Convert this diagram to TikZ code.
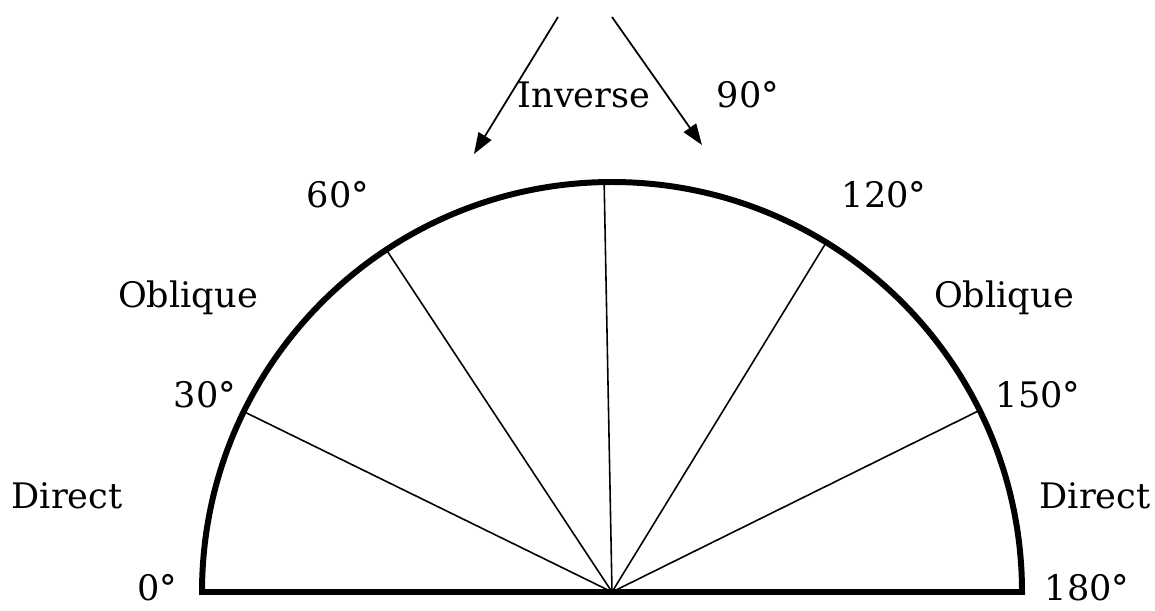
\documentclass[tikz,border=0pt]{standalone}
\usepackage{fontspec}
\setmainfont{DejaVu Serif}
\usetikzlibrary{arrows.meta,calc}

\begin{document}
\begin{tikzpicture}[x=0.02cm,y=0.02cm,
    rim/.style={line width=3.4pt,line cap=round},
    spoke/.style={line width=0.9pt},
    dirarrow/.style={line width=1pt,-{Triangle[length=12pt,width=8.5pt]}},
    lbl/.style={font=\fontsize{20}{24}\selectfont,inner sep=0pt,anchor=base}]
  \useasboundingbox (0,0) rectangle (1155,610);
  \coordinate (C) at (612,18);
  % spokes
  \foreach \ang/\nm in {153.9/s30,123.4/s60,91.1/s90,58.5/s120,26.3/s150}{
    \coordinate (\nm) at ($(C)+(\ang:410)$);
    \draw[spoke] (C) -- (\nm);
  }
  \draw[rim] (202,18) arc[start angle=180,end angle=0,radius=410] -- cycle;
  \fill (C) circle (3);
  % arrows for inverse region
  \coordinate (la) at (558,593);
  \coordinate (lb) at (474,456);
  \coordinate (ra) at (612,593);
  \coordinate (rb) at (702,465);
  \draw[dirarrow] (la) -- (lb);
  \draw[dirarrow] (ra) -- (rb);
  % labels
  \node[lbl] (inv) at (584,503) {Inverse};
  \node[lbl] (d90) at (748,503) {90°};
  \node[lbl] (d60) at (338,403) {60°};
  \node[lbl] (d120) at (884,403) {120°};
  \node[lbl] (obl) at (188,303) {Oblique};
  \node[lbl] (obr) at (1004,303) {Oblique};
  \node[lbl] (d30) at (205,203) {30°};
  \node[lbl] (d150) at (1038,203) {150°};
  \node[lbl] (dirl) at (67,102) {Direct};
  \node[lbl] (dirr) at (1095,102) {Direct};
  \node[lbl] (d0) at (157,10) {0°};
  \node[lbl] (d180) at (1087,10) {180°};
\end{tikzpicture}
\end{document}
